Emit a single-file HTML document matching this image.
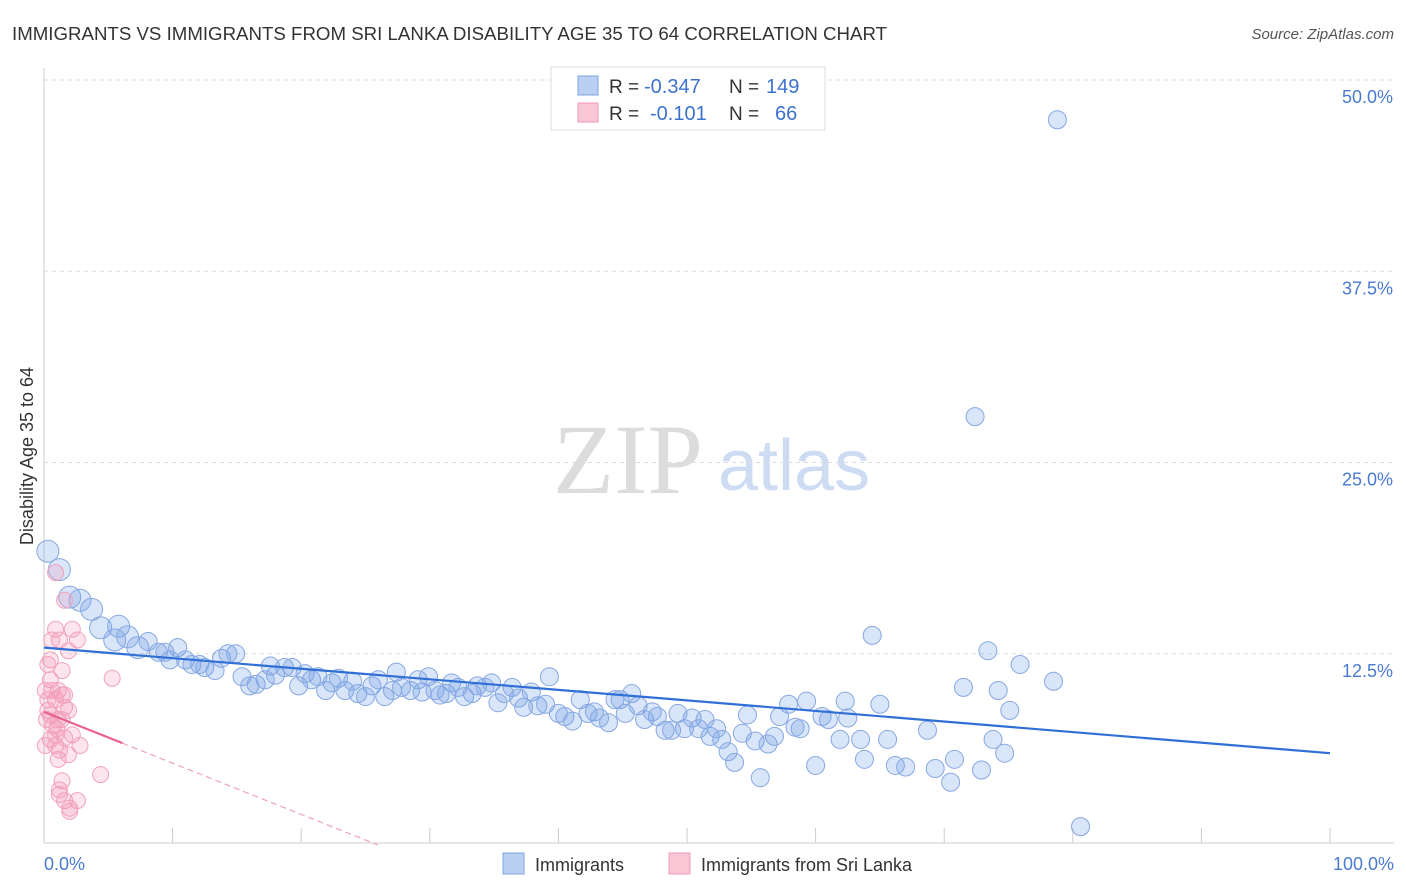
<!DOCTYPE html>
<html><head><meta charset="utf-8"><style>
body{margin:0;background:#fff;font-family:"Liberation Sans",sans-serif;}
svg{display:block}
</style></head><body>
<svg id="chart" width="1406" height="892">
<text x="12" y="40" font-size="18" fill="#333" textLength="875" lengthAdjust="spacingAndGlyphs">IMMIGRANTS VS IMMIGRANTS FROM SRI LANKA DISABILITY AGE 35 TO 64 CORRELATION CHART</text>
<text x="1394" y="39" font-size="15" fill="#555" font-style="italic" text-anchor="end">Source: ZipAtlas.com</text>
<text x="553" y="493" font-size="100" fill="#dcdcdc" font-family="Liberation Serif,serif">ZIP</text>
<text x="718" y="490" font-size="72" fill="#cddcf3">atlas</text>
<g id="grid"></g><g id="axes"></g><g id="marks"></g><g id="lines"></g>
<text transform="translate(33,456) rotate(-90)" font-size="18" fill="#333" text-anchor="middle">Disability Age 35 to 64</text>
<text x="44" y="870" font-size="18" fill="#4a7bd0">0.0%</text>
<text x="1394" y="870" font-size="18" fill="#4a7bd0" text-anchor="end">100.0%</text>
<g>
<rect x="551" y="67" width="274" height="63" fill="#fff" stroke="#ddd"/>
<rect x="578" y="76" width="20" height="19" fill="#b9d0f3" stroke="#7ea3e0"/>
<rect x="578" y="103" width="20" height="19" fill="#f9c6d6" stroke="#f09ab6"/>
<text x="609" y="93" font-size="19" fill="#333">R =</text>
<text x="644" y="93" font-size="20" fill="#3d72cf">-0.347</text>
<text x="729" y="93" font-size="19" fill="#333">N =</text>
<text x="766" y="93" font-size="20" fill="#3d72cf">149</text>
<text x="609" y="120" font-size="19" fill="#333">R =</text>
<text x="650" y="120" font-size="20" fill="#3d72cf">-0.101</text>
<text x="729" y="120" font-size="19" fill="#333">N =</text>
<text x="775" y="120" font-size="20" fill="#3d72cf">66</text>
</g>
<g>
<rect x="503" y="853" width="21" height="21" fill="#b9d0f3" stroke="#7ea3e0"/>
<text x="535" y="871" font-size="18" fill="#333">Immigrants</text>
<rect x="669" y="853" width="21" height="21" fill="#f9c6d6" stroke="#f09ab6"/>
<text x="701" y="871" font-size="18" fill="#333">Immigrants from Sri Lanka</text>
</g>
</svg>
<script>
const yTicks=[12.5,25.0,37.5,50.0];
const yTickLabels=["12.5%","25.0%","37.5%","50.0%"];
const xTicks=[0,10,20,30,40,50,60,70,80,90,100];
const blueX=[0.3,1.2,2.0,2.8,3.7,4.4,5.8,5.5,6.5,7.3,8.1,8.9,9.4,10.4,9.8,11.0,11.5,12.1,12.5,13.3,13.8,14.3,14.9,15.4,16.0,16.5,17.2,17.6,18.0,18.7,19.3,19.8,20.3,20.8,21.3,21.9,22.4,22.9,23.4,24.0,24.4,25.0,25.5,26.0,26.5,27.1,27.4,27.8,28.5,29.1,29.4,29.9,30.4,30.8,31.3,31.7,32.2,32.7,33.3,33.7,34.3,34.8,35.3,35.8,36.4,36.9,37.3,37.9,38.4,39.0,39.3,40.0,40.5,41.1,41.7,42.3,42.8,43.2,43.9,44.4,44.8,45.2,45.7,46.2,46.7,47.3,47.7,48.3,48.8,49.3,49.8,50.4,50.9,51.4,51.8,52.3,52.7,53.2,53.7,54.3,54.7,55.3,55.7,56.3,56.8,57.2,57.9,58.4,58.8,59.3,60.0,60.5,61.0,61.9,62.3,62.5,63.5,63.8,64.4,65.0,65.6,66.2,67.0,68.7,69.3,70.5,70.8,71.5,72.4,72.9,73.4,73.8,74.2,74.7,75.1,75.9,78.5,78.8,80.6];
const blueY=[19.2,18.0,16.2,16.0,15.4,14.2,14.3,13.4,13.6,12.9,13.3,12.6,12.6,12.9,12.1,12.1,11.8,11.8,11.6,11.4,12.2,12.5,12.5,11.0,10.4,10.5,10.8,11.7,11.1,11.6,11.6,10.4,11.2,10.8,11.0,10.1,10.6,10.9,10.1,10.7,9.9,9.7,10.4,10.8,9.7,10.1,11.3,10.3,10.1,10.8,10.0,11.0,10.1,9.8,9.9,10.6,10.3,9.7,9.9,10.4,10.3,10.6,9.3,9.9,10.3,9.6,9.0,10.0,9.1,9.2,11.0,8.6,8.4,8.1,9.5,8.6,8.7,8.3,8.0,9.5,9.5,8.6,9.9,9.1,8.2,8.7,8.4,7.5,7.5,8.6,7.6,8.3,7.6,8.2,7.1,7.6,6.9,6.1,5.4,7.3,8.5,6.8,4.4,6.6,7.1,8.4,9.2,7.7,7.6,9.4,5.2,8.4,8.2,6.9,9.4,8.3,6.9,5.6,13.7,9.2,6.9,5.2,5.1,7.5,5.0,4.1,5.6,10.3,28.0,4.9,12.7,6.9,10.1,6.0,8.8,11.8,10.7,47.4,1.2];
const pinkX=[0.9,1.6,0.9,1.2,1.9,2.2,2.6,0.3,0.5,0.6,0.9,0.3,1.1,1.4,1.6,0.5,0.9,1.2,1.6,1.1,1.9,1.4,1.2,1.6,2.0,2.6,2.8,4.4,5.3,0.6,0.1,0.3,0.5,0.7,1.0,0.1,1.4,1.9,2.2,0.5,1.1,1.4,1.6,0.2,0.9,2.0,1.2];
const pinkY=[17.8,16.0,14.1,13.4,12.7,14.1,13.4,11.8,10.8,10.1,9.5,8.8,8.2,9.8,9.0,6.9,6.5,6.2,7.0,5.6,5.9,4.2,3.3,2.9,2.4,2.9,6.5,4.6,10.9,13.4,10.1,9.5,8.5,7.8,7.6,6.5,8.2,8.8,7.2,12.1,10.1,11.4,9.8,8.2,7.2,2.2,3.6];
const blueTrend=[12.9,6.0];
const pinkTrend=[8.7,-0.335,6.1];
const NS="http://www.w3.org/2000/svg";
const X=v=>44+v*12.86, Y=v=>845-v*15.3;
function mk(t,a,p){const e=document.createElementNS(NS,t);for(const k in a)e.setAttribute(k,a[k]);document.getElementById(p).appendChild(e);return e;}
yTicks.forEach((t,i)=>{
 const g=mk('line',{x1:44,x2:1394,y1:Y(t),y2:Y(t),stroke:'#ddd','stroke-dasharray':'4,4'},'grid');
 
 
 const l=mk('text',{x:1393,y:Y(t)+23,'font-size':18,fill:'#4a7bd0','text-anchor':'end'},'axes');
 l.textContent=yTickLabels[i];
 
 
});
const ax=mk('line',{x1:44,x2:1394,y1:843,y2:843,stroke:'#ccc'},'axes');


const ay=mk('line',{x1:44,x2:44,y1:68,y2:843,stroke:'#ccc'},'axes');


xTicks.forEach(t=>{
 const e=mk('line',{x1:X(t),x2:X(t),y1:828,y2:843,stroke:'#ccc'},'axes');
 
 
});
blueX.forEach((x,i)=>{
 const c=mk('circle',{cx:X(x),cy:Y(blueY[i]),r:x<8?11:9,fill:'rgba(120,160,230,0.28)',stroke:'#86a8e2','stroke-width':1},'marks');
 
 
});
pinkX.forEach((x,i)=>{
 const c=mk('circle',{cx:X(x),cy:Y(pinkY[i]),r:8,fill:'rgba(245,150,180,0.25)',stroke:'#f2a2bd','stroke-width':1},'marks');
 
 
});
const bl=mk('line',{x1:X(0),y1:Y(blueTrend[0]),x2:X(100),y2:Y(blueTrend[1]),stroke:'#2f6fd6','stroke-width':2.2},'lines');


const pe=pinkTrend[2], pz=-pinkTrend[0]/pinkTrend[1];
const pl=mk('line',{x1:X(0),y1:Y(pinkTrend[0]),x2:X(pe),y2:Y(pinkTrend[0]+pinkTrend[1]*pe),stroke:'#e8608e','stroke-width':2.2},'lines');


const pd=mk('line',{x1:X(pe),y1:Y(pinkTrend[0]+pinkTrend[1]*pe),x2:X(pz),y2:Y(0),stroke:'#f0a0bb','stroke-width':1.2,'stroke-dasharray':'6,4'},'lines');


</script>
</body></html>
